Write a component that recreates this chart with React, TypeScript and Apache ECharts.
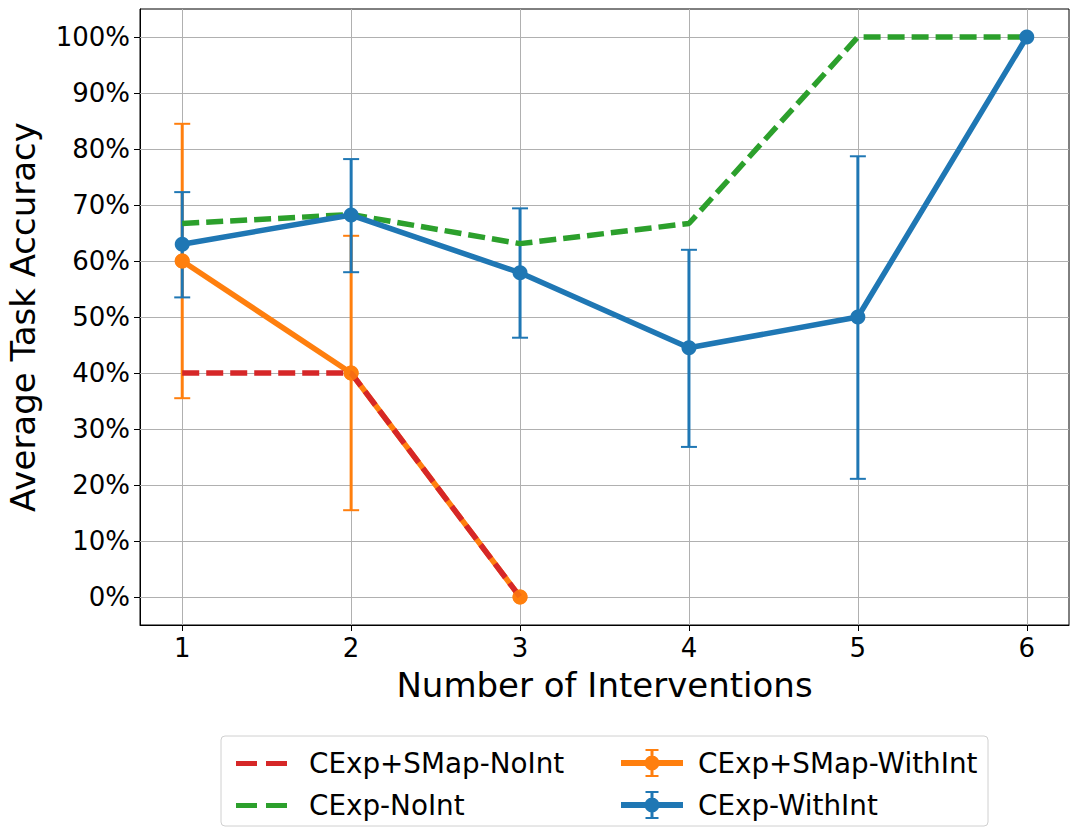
import React, { useEffect, useRef } from "react";
import * as echarts from "echarts";

const interventions = [1, 2, 3, 4, 5, 6];
const yTicks = [0, 10, 20, 30, 40, 50, 60, 70, 80, 90, 100];

const smapNoInt = [40, 40, 0];
const smapWithInt = [60, 40, 0];
const smapWithIntLow = [35.5, 15.5, 0];
const smapWithIntHigh = [84.5, 64.5, 0];
const expNoInt = [66.7, 68.3, 63.1, 66.7, 100, 100];
const expWithInt = [63.0, 68.2, 57.9, 44.5, 50, 100];
const expWithIntLow = [53.5, 58.0, 46.3, 26.8, 21.1, 100];
const expWithIntHigh = [72.3, 78.2, 69.4, 62.0, 78.7, 100];

const C_RED = "#d62728";
const C_GREEN = "#2ca02c";
const C_ORANGE = "#ff7f0e";
const C_BLUE = "#1f77b4";
const FONT = "DejaVu Sans";

const DASH_ICON =
  "path://M0,0h0.01v0.01h-0.01z M50.99,26.99h0.01v0.01h-0.01z M0,11h21v5h-21z M30,11h21v5h-21z";
const ERR_ICON =
  "path://M0,11h62v6h-62z M23.5,14a7.5,7.5 0 1,1 15,0a7.5,7.5 0 1,1 -15,0z M29.5,0h3v28h-3z M24.5,0h13v2h-13z M24.5,26h13v2h-13z";

const pts = (vals: number[]) => vals.map((v, i) => [interventions[i], v]);
const errPts = (lo: number[], hi: number[]) =>
  lo.map((l, i) => [interventions[i], l, hi[i]]).filter((d) => d[1] !== d[2]);

const errSeries = (name: string, data: number[][], color: string, z: number) => ({
  type: "custom",
  name: name + " err",
  z,
  data,
  encode: { x: 0, y: [1, 2] },
  renderItem: (params: any, api: any) => {
    const x = api.value(0);
    const a = api.coord([x, api.value(1)]);
    const b = api.coord([x, api.value(2)]);
    const s = { stroke: color, lineWidth: 3 };
    const c = { stroke: color, lineWidth: 2 };
    return {
      type: "group",
      children: [
        { type: "line", shape: { x1: a[0], y1: a[1], x2: b[0], y2: b[1] }, style: s },
        { type: "line", shape: { x1: a[0] - 8, y1: a[1], x2: a[0] + 8, y2: a[1] }, style: c },
        { type: "line", shape: { x1: b[0] - 8, y1: b[1], x2: b[0] + 8, y2: b[1] }, style: c },
      ],
    };
  },
});

export default function App() {
  const ref = useRef<HTMLDivElement>(null);
  useEffect(() => {
    if (!ref.current) return;
    const chart = echarts.init(ref.current, null, { renderer: "svg" });
    const gridMarks = [
      ...interventions.map((v) => ({ xAxis: v })),
      ...yTicks.map((v) => ({ yAxis: v })),
    ];
    chart.setOption({
      animation: false,
      backgroundColor: "#fff",
      textStyle: { fontFamily: FONT },
      grid: {
        left: 140,
        right: 9,
        top: 9,
        bottom: 212,
        containLabel: false,
        outerBoundsMode: "none",
        show: true,
        borderColor: "#000",
        borderWidth: 1,
        backgroundColor: "transparent",
      },
      graphic: [
        {
          type: "rect",
          z: 0,
          shape: { x: 221, y: 736, width: 767, height: 90, r: 4 },
          style: { fill: "#fff", stroke: "#d0d0d0", lineWidth: 1 },
        },
      ],
      legend: [
        {
          orient: "vertical",
          left: 231,
          top: 744.5,
          itemWidth: 51,
          itemHeight: 27,
          itemGap: 14,
          symbolKeepAspect: false,
          textStyle: { fontSize: 27.8, color: "#000", fontFamily: FONT, padding: [0, 0, 0, 17] },
          data: [
            { name: "CExp+SMap-NoInt", icon: DASH_ICON },
            { name: "CExp-NoInt", icon: DASH_ICON },
          ],
        },
        {
          orient: "vertical",
          left: 616,
          top: 744,
          itemWidth: 62,
          itemHeight: 28,
          itemGap: 14,
          symbolKeepAspect: false,
          textStyle: { fontSize: 27.8, color: "#000", fontFamily: FONT, padding: [0, 0, 0, 10] },
          data: [
            { name: "CExp+SMap-WithInt", icon: ERR_ICON },
            { name: "CExp-WithInt", icon: ERR_ICON },
          ],
        },
      ],
      xAxis: {
        type: "value",
        min: 0.75,
        max: 6.25,
        name: "Number of Interventions",
        nameLocation: "middle",
        nameGap: 43,
        nameTextStyle: { fontSize: 34, color: "#000", fontFamily: FONT },
        axisLine: { show: true, onZero: false, lineStyle: { color: "#000", width: 1 } },
        axisTick: { show: true, customValues: interventions, length: 6, lineStyle: { color: "#000" } },
        axisLabel: { customValues: interventions, fontSize: 26, color: "#000", margin: 10, fontFamily: FONT },
        splitLine: { show: false },
      },
      yAxis: {
        type: "value",
        min: -5,
        max: 105,
        name: "Average Task Accuracy",
        nameLocation: "middle",
        nameGap: 100,
        nameTextStyle: { fontSize: 34, color: "#000", fontFamily: FONT },
        axisLine: { show: true, onZero: false, lineStyle: { color: "#000", width: 1 } },
        axisTick: { show: true, customValues: yTicks, length: 6, lineStyle: { color: "#000" } },
        axisLabel: {
          customValues: yTicks,
          fontSize: 26,
          color: "#000",
          margin: 10,
          fontFamily: FONT,
          formatter: (v: number) => v + "%",
        },
        splitLine: { show: false },
      },
      series: [
        {
          type: "line",
          name: "grid",
          data: [],
          z: 1,
          silent: true,
          markLine: {
            silent: true,
            z: 1,
            symbol: "none",
            label: { show: false },
            lineStyle: { color: "#b0b0b0", width: 1, type: "solid" },
            data: gridMarks,
          },
        },
        errSeries("CExp+SMap-WithInt", errPts(smapWithIntLow, smapWithIntHigh), C_ORANGE, 2),
        errSeries("CExp-WithInt", errPts(expWithIntLow, expWithIntHigh), C_BLUE, 2),
        {
          type: "line",
          name: "CExp+SMap-WithInt",
          data: pts(smapWithInt),
          z: 3,
          color: C_ORANGE,
          symbol: "circle",
          symbolSize: 15,
          lineStyle: { width: 5.5, color: C_ORANGE },
          itemStyle: { color: C_ORANGE },
        },
        {
          type: "line",
          name: "CExp+SMap-NoInt",
          data: pts(smapNoInt),
          z: 4,
          color: C_RED,
          symbol: "none",
          lineStyle: { width: 5.5, color: C_RED, type: [17, 7] },
          itemStyle: { color: C_RED },
        },
        {
          type: "line",
          name: "CExp-NoInt",
          data: pts(expNoInt),
          z: 4,
          color: C_GREEN,
          symbol: "none",
          lineStyle: { width: 5.5, color: C_GREEN, type: [17, 7] },
          itemStyle: { color: C_GREEN },
        },
        {
          type: "line",
          name: "CExp-WithInt",
          data: pts(expWithInt),
          z: 5,
          color: C_BLUE,
          symbol: "circle",
          symbolSize: 15,
          lineStyle: { width: 5.5, color: C_BLUE },
          itemStyle: { color: C_BLUE },
        },
        {
          type: "scatter",
          name: "smap-withint-markers",
          data: pts(smapWithInt),
          z: 6,
          symbol: "circle",
          symbolSize: 15,
          itemStyle: { color: C_ORANGE },
        },
      ],
    });
    return () => chart.dispose();
  }, []);
  return (
    <div
      ref={ref}
      style={{ position: "fixed", left: 0, top: 0, width: 1078, height: 837 }}
    />
  );
}
